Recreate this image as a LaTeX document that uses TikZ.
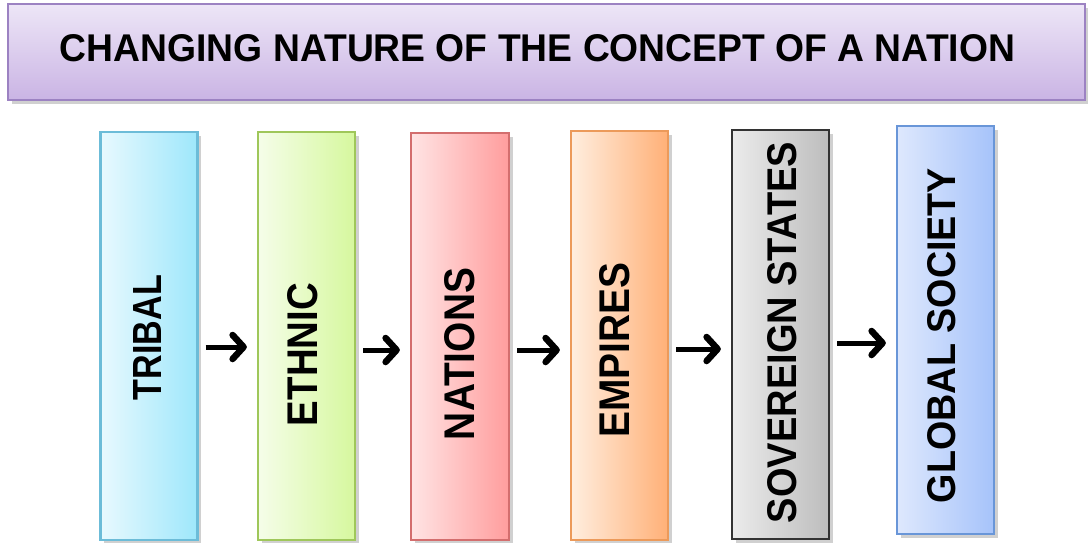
\documentclass[tikz,border=0pt]{standalone}
\usepackage{fontspec}
\setmainfont{Liberation Sans}
\usetikzlibrary{arrows.meta,shadows}
\definecolor{ttop}{HTML}{EDE6F7}
\definecolor{tbot}{HTML}{CAB4E4}
\definecolor{tbrd}{HTML}{9C82C2}
\definecolor{c1l}{HTML}{E8F9FE}\definecolor{c1r}{HTML}{9EE7FB}\definecolor{c1b}{HTML}{6CBCD8}
\definecolor{c2l}{HTML}{F5FDE9}\definecolor{c2r}{HTML}{D6F89E}\definecolor{c2b}{HTML}{9FC75A}
\definecolor{c3l}{HTML}{FFE4E4}\definecolor{c3r}{HTML}{FF9D9D}\definecolor{c3b}{HTML}{D36E6E}
\definecolor{c4l}{HTML}{FFEEDF}\definecolor{c4r}{HTML}{FFB077}\definecolor{c4b}{HTML}{EC9A5A}
\definecolor{c5l}{HTML}{EBEBEB}\definecolor{c5r}{HTML}{BDBDBD}\definecolor{c5b}{HTML}{333333}
\definecolor{c6l}{HTML}{DEE8FD}\definecolor{c6r}{HTML}{A6C3FA}\definecolor{c6b}{HTML}{6996D8}
\tikzset{
  shad/.style={drop shadow={shadow xshift=3.5pt,shadow yshift=-3.5pt,opacity=0.3,fill=black!60}},
  stage/.style={shad,rectangle,line width=2.3pt,inner sep=0pt,minimum width=97pt},
  lab/.style={rotate=90,inner sep=0pt,font=\bfseries},
  arr/.style={line width=5pt,-{Straight Barb[length=11pt,width=24pt,line width=6.5pt,round]},shorten <=7pt,shorten >=10pt}
}
\begin{document}
\begin{tikzpicture}[x=1pt,y=-1pt]
\useasboundingbox[fill=white] (0,0) rectangle (1088,542);
% title
\node[shad,rectangle,draw=tbrd,line width=2.2pt,top color=ttop,bottom color=tbot,
      minimum width=1077pt,minimum height=96pt,inner sep=0pt] (title) at (546.5,52) {};
\node[inner sep=0pt] (titletext) at (537.5,48.5)
  {\resizebox{955pt}{27pt}{\bfseries CHANGING NATURE OF THE CONCEPT OF A NATION}};
% stage boxes
\node[stage,draw=c1b,left color=c1l,right color=c1r,minimum height=408pt] (tribal) at (149,336) {};
\node[stage,draw=c2b,left color=c2l,right color=c2r,minimum height=408pt] (ethnic) at (306.5,336) {};
\node[stage,draw=c3b,left color=c3l,right color=c3r,minimum width=98pt,minimum height=407pt] (nations) at (460,336.5) {};
\node[stage,draw=c4b,left color=c4l,right color=c4r,minimum height=409pt] (empires) at (619.5,335.5) {};
\node[stage,draw=c5b,left color=c5l,right color=c5r,minimum height=409pt] (sovereign) at (780.5,334.5) {};
\node[stage,draw=c6b,left color=c6l,right color=c6r,minimum height=408pt] (global) at (945.5,330) {};
% labels
\node[lab] (tribalText) at (147.5,337.5) {\resizebox{125pt}{28pt}{TRIBAL}};
\node[lab] (ethnicText) at (302.5,354.5) {\resizebox{143pt}{30pt}{ETHNIC}};
\node[lab] (nationsText) at (460,354) {\resizebox{172pt}{30pt}{NATIONS}};
\node[lab] (empiresText) at (615,350) {\resizebox{175pt}{30pt}{EMPIRES}};
\node[lab] (sovereignText) at (782.5,332.5) {\resizebox{381pt}{29pt}{SOVEREIGN STATES}};
\node[lab] (globalText) at (941.5,335.5) {\resizebox{335pt}{28pt}{GLOBAL SOCIETY}};
% arrows
\coordinate (r1) at (0,347);
\coordinate (r2) at (0,350);
\coordinate (r3) at (0,350);
\coordinate (r4) at (0,349);
\coordinate (r5) at (0,343);
\draw[arr] (tribal.east |- r1) -- (ethnic.west |- r1);
\draw[arr] (ethnic.east |- r2) -- (nations.west |- r2);
\draw[arr] (nations.east |- r3) -- (empires.west |- r3);
\draw[arr] (empires.east |- r4) -- (sovereign.west |- r4);
\draw[arr] (sovereign.east |- r5) -- (global.west |- r5);
\end{tikzpicture}
\end{document}
